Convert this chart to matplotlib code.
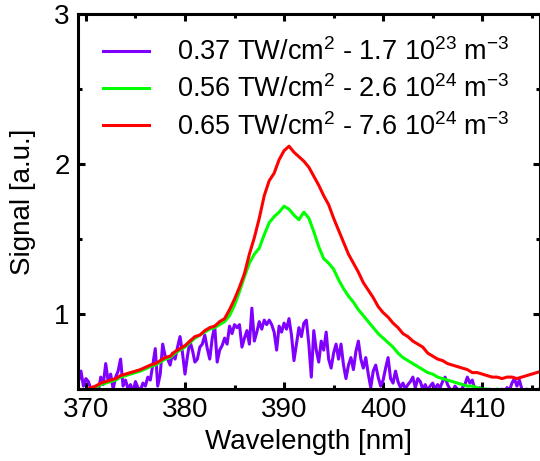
import numpy as np
import matplotlib
matplotlib.use("Agg")
import matplotlib.pyplot as plt
from matplotlib.ticker import MultipleLocator

plt.rcParams["font.family"] = ["Liberation Sans", "DejaVu Sans"]
plt.rcParams["mathtext.default"] = "regular"

# spectra of the two stronger shots, 0.5 nm step from 369 nm
wl_smooth = np.arange(369.0, 416.01, 0.5)
red = [
    0.45, 0.47, 0.49, 0.51, 0.52, 0.54, 0.55, 0.56, 0.57, 0.59,
    0.60, 0.61, 0.62, 0.63, 0.645, 0.66, 0.67, 0.69, 0.71, 0.72,
    0.75, 0.77, 0.79, 0.82, 0.85, 0.86, 0.89, 0.91, 0.92, 0.95,
    0.97, 1.03, 1.10, 1.18, 1.27, 1.40, 1.51, 1.64, 1.79, 1.89,
    1.94, 2.03, 2.09, 2.12, 2.08, 2.05, 2.02, 1.98, 1.92, 1.86,
    1.79, 1.73, 1.64, 1.56, 1.48, 1.40, 1.34, 1.28, 1.21, 1.16,
    1.11, 1.05, 1.01, 0.98, 0.94, 0.91, 0.87, 0.85, 0.82, 0.80,
    0.78, 0.74, 0.72, 0.70, 0.69, 0.67, 0.66, 0.65, 0.64, 0.63,
    0.61, 0.61, 0.60, 0.59, 0.58, 0.58, 0.57, 0.58, 0.58, 0.57,
    0.58, 0.59, 0.60, 0.61, 0.62,
]
green = [
    0.44, 0.46, 0.48, 0.50, 0.51, 0.53, 0.54, 0.55, 0.56, 0.58,
    0.59, 0.60, 0.61, 0.62, 0.635, 0.65, 0.66, 0.68, 0.70, 0.71,
    0.74, 0.76, 0.78, 0.81, 0.84, 0.86, 0.88, 0.90, 0.91, 0.93,
    0.95, 0.99, 1.06, 1.15, 1.25, 1.34, 1.40, 1.44, 1.53, 1.61,
    1.65, 1.68, 1.72, 1.70, 1.66, 1.63, 1.68, 1.64, 1.55, 1.45,
    1.37, 1.34, 1.30, 1.23, 1.17, 1.12, 1.08, 1.03, 0.99, 0.95,
    0.91, 0.87, 0.84, 0.81, 0.78, 0.74, 0.71, 0.69, 0.67, 0.65,
    0.63, 0.61, 0.60, 0.58, 0.57, 0.56, 0.55, 0.54, 0.53, 0.52,
    0.52, 0.51, 0.50, 0.50, 0.49, 0.50, 0.49, 0.48, 0.49, 0.48,
    0.49, 0.48, 0.49, 0.48, 0.49,
]

# weakest shot, noisy, 0.25 nm step from 369 nm
wl_noisy = np.arange(369.0, 416.01, 0.25)
purple = [
    0.60, 0.55, 0.62, 0.52, 0.57,
    0.55, 0.50, 0.47, 0.52, 0.48, 0.58, 0.53, 0.67,
    0.55, 0.60, 0.50, 0.58, 0.62, 0.70, 0.52, 0.56,
    0.50, 0.53, 0.48, 0.55, 0.51, 0.49, 0.54, 0.52,
    0.58, 0.56, 0.66, 0.77, 0.52, 0.60, 0.80, 0.72,
    0.70, 0.66, 0.74, 0.70, 0.78, 0.85, 0.74, 0.60,
    0.72, 0.82, 0.76, 0.68, 0.70, 0.78, 0.80, 0.86,
    0.77, 0.70, 0.84, 0.92, 0.68, 0.76, 0.79, 0.84,
    0.80, 0.92, 0.87, 0.93, 0.91, 0.93, 0.78, 0.84,
    0.89, 0.80, 1.04, 0.82, 0.88, 0.95, 0.90, 0.96,
    0.93, 0.96, 0.93, 0.88, 0.76, 0.92, 0.88, 0.94,
    0.90, 0.97, 0.86, 0.69, 0.80, 0.91, 0.85, 0.94,
    0.96, 0.80, 0.58, 0.89, 0.76, 0.68, 0.82, 0.76,
    0.88, 0.70, 0.64, 0.74, 0.80, 0.70, 0.80, 0.66,
    0.57, 0.66, 0.71, 0.63, 0.75, 0.82, 0.70, 0.64,
    0.71, 0.60, 0.51, 0.62, 0.66, 0.58, 0.52, 0.56,
    0.64, 0.71, 0.57, 0.54, 0.62, 0.55, 0.51, 0.54,
    0.50, 0.53, 0.55, 0.58, 0.51, 0.57, 0.55, 0.50,
    0.53, 0.49, 0.52, 0.54, 0.50, 0.53, 0.51, 0.55,
    0.58, 0.53, 0.50, 0.48, 0.52, 0.50, 0.47, 0.51,
    0.53, 0.58, 0.54, 0.56, 0.50, 0.48, 0.51, 0.47,
    0.49, 0.46, 0.50, 0.48, 0.45, 0.49, 0.47, 0.50,
    0.48, 0.51, 0.49, 0.54, 0.57, 0.52, 0.56, 0.50,
    0.48, 0.50, 0.47, 0.49, 0.46, 0.48, 0.50, 0.47,
]

labels = [
    "0.37 TW/cm$^{2}$ - 1.7 10$^{23}$ m$^{-3}$",
    "0.56 TW/cm$^{2}$ - 2.6 10$^{24}$ m$^{-3}$",
    "0.65 TW/cm$^{2}$ - 7.6 10$^{24}$ m$^{-3}$",
]
colors = ["#8000ff", "#00ff00", "#ff0000"]

fig = plt.figure(figsize=(5.4, 4.61), dpi=100)
ax = fig.add_axes([0.1444, 0.156, 0.855, 0.813])

ax.plot(wl_noisy, purple, color=colors[0], lw=2.2, label=labels[0])
ax.plot(wl_smooth, green, color=colors[1], lw=2.2, label=labels[1])
ax.plot(wl_smooth, red, color=colors[2], lw=2.2, label=labels[2])

ax.set_xlim(369.2, 415.8)
ax.set_ylim(0.5, 3.0)
ax.xaxis.set_major_locator(MultipleLocator(10))
ax.xaxis.set_minor_locator(MultipleLocator(5))
ax.yaxis.set_major_locator(MultipleLocator(1))
ax.yaxis.set_minor_locator(MultipleLocator(0.5))
ax.tick_params(which="both", direction="in", top=True, right=True, width=2.2)
ax.tick_params(which="major", length=5, labelsize=20, pad=6)
ax.tick_params(which="minor", length=3)
for s in ax.spines.values():
    s.set_linewidth(2.2)

ax.set_xlabel("Wavelength [nm]", fontsize=20, labelpad=4)
ax.set_ylabel("Signal [a.u.]", fontsize=20, labelpad=13)

ax.legend(loc="upper left", bbox_to_anchor=(0.03, 0.965), frameon=False,
          fontsize=19.5, handlelength=1.7, handletextpad=1.05, labelspacing=0.35,
          borderaxespad=0)

fig.savefig("out.png")
